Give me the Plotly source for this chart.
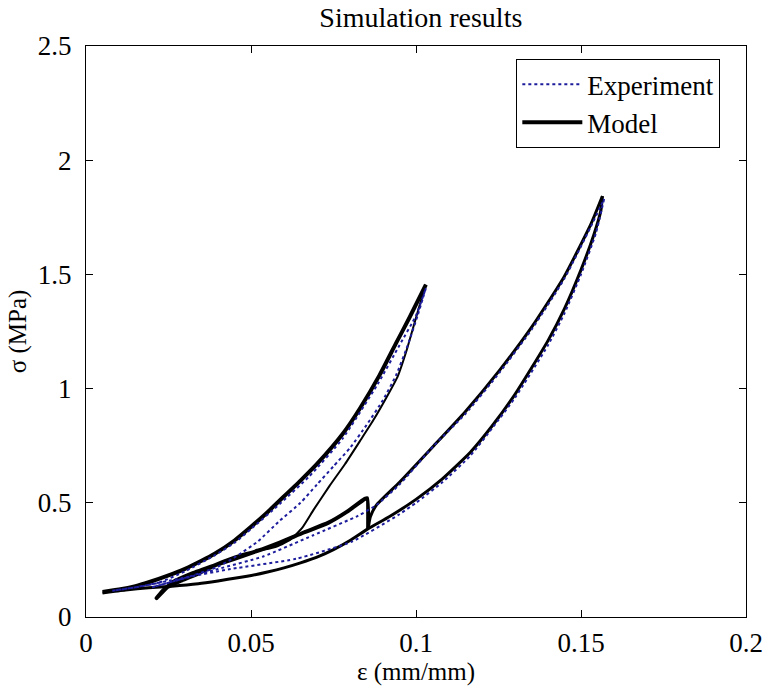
import plotly.graph_objects as go

# ---------------- data ----------------
# Model: loop 1 loading (thick)
model_load1_eps = [0.005, 0.010, 0.015, 0.019, 0.025, 0.030, 0.035, 0.039, 0.045, 0.050,
                   0.0545, 0.0587, 0.065, 0.070, 0.0777, 0.083, 0.089, 0.094, 0.098, 0.103]
model_load1_sig = [0.11, 0.12, 0.135, 0.152, 0.182, 0.211, 0.246, 0.277, 0.335, 0.395,
                   0.452, 0.51, 0.597, 0.67, 0.80, 0.913, 1.06, 1.20, 1.31, 1.455]
# Model: loop 1 unloading (thin)
model_unload1_eps = [0.1030, 0.1012, 0.0990, 0.0970, 0.0945, 0.0910, 0.0870, 0.0830, 0.0785,
                     0.0738, 0.0690, 0.0655, 0.0620, 0.0580, 0.0540, 0.0520]
model_unload1_sig = [1.455, 1.37, 1.26, 1.16, 1.055, 0.96, 0.86, 0.77, 0.67,
                     0.574, 0.47, 0.39, 0.34, 0.31, 0.295, 0.29]
# Model: return to the hook and reloading up to the jump (thick)
model_reload2_eps = [0.0520, 0.0450, 0.0390, 0.0320, 0.0260, 0.0214, 0.0240, 0.0290, 0.0340,
                     0.0390, 0.0450, 0.0520, 0.0587, 0.0660, 0.0735, 0.0790, 0.0845, 0.0852,
                     0.0855]
model_reload2_sig = [0.29, 0.255, 0.226, 0.19, 0.15, 0.083, 0.125, 0.16, 0.19,
                     0.226, 0.26, 0.29, 0.326, 0.37, 0.413, 0.46, 0.517, 0.52,
                     0.39]
# Model: loop 2 loading (upper branch)
model_load2_eps = [0.0855, 0.0862, 0.0880, 0.0950, 0.1054, 0.1150, 0.1253, 0.1351, 0.1449,
                   0.1530, 0.1565]
model_load2_sig = [0.39, 0.44, 0.49, 0.59, 0.75, 0.90, 1.08, 1.27, 1.49,
                   1.72, 1.843]
# Model: loop 2 unloading (lower branch)
model_unload2_eps = [0.1565, 0.1560, 0.1539, 0.1500, 0.1450, 0.1400, 0.1350, 0.1300, 0.1230,
                     0.1164, 0.1080, 0.1000, 0.0920, 0.0855, 0.0800, 0.0750, 0.0700, 0.0650,
                     0.0600, 0.0550, 0.0488, 0.0400, 0.0340, 0.0260, 0.0190, 0.0120, 0.0050]
model_unload2_sig = [1.843, 1.778, 1.674, 1.52, 1.35, 1.21, 1.09, 0.975, 0.835,
                     0.72, 0.605, 0.515, 0.44, 0.387, 0.335, 0.295, 0.262, 0.237,
                     0.215, 0.197, 0.178, 0.158, 0.146, 0.135, 0.128, 0.118, 0.105]

# Experiment (dotted blue)
exp_load1_eps = [0.008, 0.015, 0.022, 0.030, 0.039, 0.045, 0.050, 0.0587, 0.0676, 0.0777,
                 0.0884, 0.0950, 0.1000, 0.1030]
exp_load1_sig = [0.115, 0.13, 0.15, 0.20, 0.27, 0.325, 0.385, 0.495, 0.615, 0.78,
                 1.02, 1.19, 1.32, 1.44]
exp_unload1_eps = [0.1030, 0.1005, 0.0975, 0.0940, 0.0900, 0.0850, 0.0800, 0.0750, 0.0700,
                   0.0650, 0.0586, 0.0520, 0.0460, 0.0400, 0.0320, 0.0250, 0.0200]
exp_unload1_sig = [1.44, 1.32, 1.19, 1.06, 0.95, 0.84, 0.74, 0.66, 0.58,
                   0.50, 0.42, 0.33, 0.27, 0.22, 0.18, 0.15, 0.13]
exp_reload2_eps = [0.0200, 0.0300, 0.0400, 0.0537, 0.0687, 0.0824, 0.0880, 0.0950, 0.1054,
                   0.1150, 0.1253, 0.1351, 0.1449, 0.1530, 0.1570]
exp_reload2_sig = [0.13, 0.17, 0.21, 0.265, 0.357, 0.443, 0.49, 0.58, 0.75,
                   0.89, 1.07, 1.26, 1.48, 1.71, 1.83]
exp_unload2_eps = [0.1570, 0.1545, 0.1500, 0.1450, 0.1400, 0.1300, 0.1230, 0.1164, 0.1080,
                   0.1000, 0.0950, 0.0806, 0.0637, 0.0438, 0.0290, 0.0150, 0.0080]
exp_unload2_sig = [1.83, 1.68, 1.50, 1.33, 1.19, 0.96, 0.825, 0.705, 0.59,
                   0.50, 0.45, 0.33, 0.255, 0.21, 0.17, 0.13, 0.115]

x_ticks = [0, 0.05, 0.1, 0.15, 0.2]
x_tick_labels = ["0", "0.05", "0.1", "0.15", "0.2"]
y_ticks = [0, 0.5, 1, 1.5, 2, 2.5]
y_tick_labels = ["0", "0.5", "1", "1.5", "2", "2.5"]

# ---------------- figure ----------------
FONT = "Liberation Serif, Times New Roman, serif"
EXP_COLOR = "#1c1c9c"
fig = go.Figure()

model_segments = [
    (model_load1_eps, model_load1_sig, 4),
    (model_unload1_eps, model_unload1_sig, 2),
    (model_reload2_eps, model_reload2_sig, 4),
    (model_load2_eps, model_load2_sig, 3),
    (model_unload2_eps, model_unload2_sig, 3),
]
for i, (ex, sy, w) in enumerate(model_segments):
    fig.add_trace(go.Scatter(
        x=ex, y=sy, mode="lines", name="Model", legendgroup="model",
        showlegend=(i == 0), legendrank=2, line_shape="spline",
        line=dict(color="black", width=w, smoothing=0.5)))

exp_segments = [
    (exp_load1_eps, exp_load1_sig),
    (exp_unload1_eps, exp_unload1_sig),
    (exp_reload2_eps, exp_reload2_sig),
    (exp_unload2_eps, exp_unload2_sig),
]
for i, (ex, sy) in enumerate(exp_segments):
    fig.add_trace(go.Scatter(
        x=ex, y=sy, mode="lines", name="Experiment", legendgroup="exp",
        showlegend=(i == 0), legendrank=1, line_shape="spline",
        line=dict(color=EXP_COLOR, width=2, dash="dot", smoothing=0.5)))

axis_common = dict(
    showline=True, linecolor="black", linewidth=1, mirror="ticks",
    ticks="inside", ticklen=7, tickcolor="black", showgrid=False, zeroline=False,
    tickfont=dict(family=FONT, size=27, color="black"),
)
fig.update_xaxes(range=[0, 0.2], tickvals=x_ticks, ticktext=x_tick_labels,
                 ticklabelstandoff=2,
                 title=dict(text="ε (mm/mm)", font=dict(family=FONT, size=25, color="black"),
                            standoff=2),
                 **axis_common)
fig.update_yaxes(range=[0, 2.5], tickvals=y_ticks, ticktext=y_tick_labels,
                 ticklabelstandoff=8,
                 title=dict(text="σ (MPa)", font=dict(family=FONT, size=25, color="black"),
                            standoff=4),
                 **axis_common)

fig.update_layout(
    width=775, height=690,
    margin=dict(l=86, r=19, t=46, b=68),
    paper_bgcolor="white", plot_bgcolor="white",
    title=dict(text="Simulation results", x=0.543, xanchor="center", y=0.975, yanchor="middle",
               font=dict(family=FONT, size=28, color="black")),
    legend=dict(x=0.652, xanchor="left", y=0.977, yanchor="top",
                bgcolor="white", bordercolor="black", borderwidth=1,
                font=dict(family=FONT, size=27, color="black"),
                itemwidth=60, tracegroupgap=0),
    showlegend=True,
)

fig.write_html("out.html")
